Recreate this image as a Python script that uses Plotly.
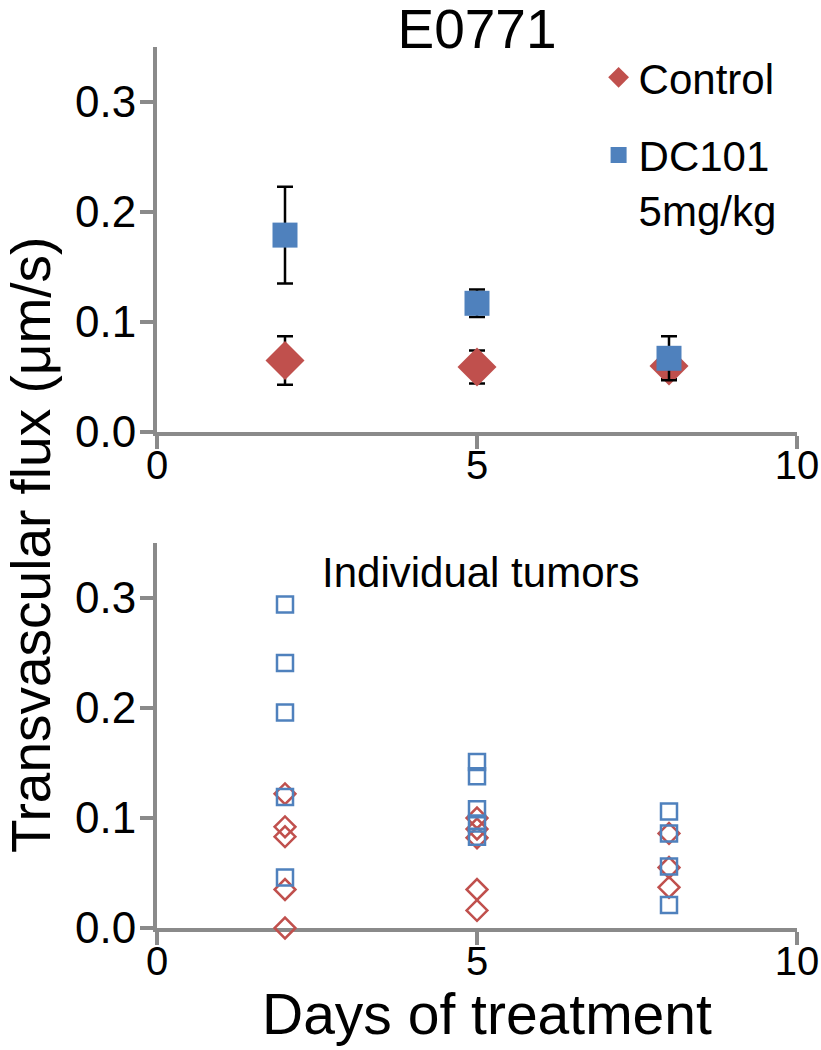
import plotly.graph_objects as go

# summary (mean +/- error) per treatment day
days = [2, 5, 8]
control_mean = [0.065, 0.059, 0.060]
control_err = [0.022, 0.015, 0.012]
dc101_mean = [0.179, 0.117, 0.067]
dc101_err = [0.044, 0.0125, 0.020]

# individual tumors
control_days = [2, 2, 2, 2, 2, 5, 5, 5, 5, 5, 8, 8, 8]
control_vals = [0.122, 0.092, 0.083, 0.035, 0.0,
                0.100, 0.090, 0.082, 0.035, 0.016,
                0.086, 0.055, 0.037]
dc101_days = [2, 2, 2, 2, 2, 5, 5, 5, 5, 5, 8, 8, 8, 8]
dc101_vals = [0.294, 0.241, 0.196, 0.119, 0.046,
              0.151, 0.138, 0.108, 0.095, 0.083,
              0.106, 0.086, 0.056, 0.021]

x_ticks = [0, 5, 10]
y_ticks = [0.0, 0.1, 0.2, 0.3]

red = "#C0504D"
blue = "#4F81BD"
grey = "#8A8A8A"
font = "Liberation Sans, Arial, sans-serif"

fig = go.Figure()

# top panel
fig.add_trace(go.Scatter(
    x=days, y=control_mean, mode="markers", name="Control", legendgroup="c",
    marker=dict(symbol="diamond", size=30, color=red),
    error_y=dict(type="data", array=control_err, color="black", thickness=2.5, width=8),
    xaxis="x", yaxis="y", cliponaxis=False))
fig.add_trace(go.Scatter(
    x=days, y=dc101_mean, mode="markers", name="DC101<br>5mg/kg", legendgroup="d",
    marker=dict(symbol="square", size=25, color=blue),
    error_y=dict(type="data", array=dc101_err, color="black", thickness=2.5, width=8),
    xaxis="x", yaxis="y", cliponaxis=False))

# bottom panel
fig.add_trace(go.Scatter(
    x=control_days, y=control_vals, mode="markers", showlegend=False,
    marker=dict(symbol="diamond-open", size=16, color=red, line=dict(width=2.5, color=red)),
    xaxis="x2", yaxis="y2", cliponaxis=False))
fig.add_trace(go.Scatter(
    x=dc101_days, y=dc101_vals, mode="markers", showlegend=False,
    marker=dict(symbol="square-open", size=16, color=blue, line=dict(width=2.5, color=blue)),
    xaxis="x2", yaxis="y2", cliponaxis=False))

axis_style = dict(
    showline=True, linecolor=grey, linewidth=4,
    ticks="outside", ticklen=13, tickwidth=4, tickcolor=grey,
    showgrid=False, zeroline=False, layer="below traces", automargin=False,
    tickfont=dict(size=44, color="black", family=font),
)
x_style = dict(axis_style, range=[0, 10], tickvals=x_ticks,
               tickfont=dict(size=40, color="black", family=font),
               ticklabelstandoff=-18, ticklabeloverflow="allow")
y_style = dict(axis_style, range=[0, 0.35], tickvals=y_ticks, tickformat=".1f",
               ticklabelstandoff=-5)

fig.update_layout(
    width=821, height=1050,
    plot_bgcolor="white", paper_bgcolor="white",
    margin=dict(l=157, r=24, t=47, b=122, autoexpand=False),
    font=dict(family=font, color="black"),
    title=dict(text="E0771", x=0.5, xref="paper", y=0.973, yanchor="middle",
               font=dict(size=55, family=font, color="black")),
    xaxis=dict(domain=[0, 1], anchor="y", **x_style),
    yaxis=dict(domain=[0.563, 1], anchor="x", **y_style),
    xaxis2=dict(domain=[0, 1], anchor="y2", **x_style),
    yaxis2=dict(domain=[0, 0.437], anchor="x2", **y_style),
    legend=dict(x=0.69, y=1.004, xanchor="left", yanchor="top", valign="top",
                font=dict(size=42, family=font, color="black"),
                bgcolor="rgba(0,0,0,0)", itemsizing="trace",
                traceorder="grouped", tracegroupgap=20),
    annotations=[
        dict(text="Individual tumors", x=0.505, y=0.404, xref="paper", yref="paper",
             showarrow=False, yanchor="middle", font=dict(size=42, family=font)),
        dict(text="Days of treatment", x=0.515, y=-0.098, xref="paper", yref="paper",
             showarrow=False, yanchor="middle", font=dict(size=57, family=font)),
        dict(text="Transvascular flux (μm/s)", x=-0.198, y=0.435, xref="paper", yref="paper",
             showarrow=False, textangle=-90, xanchor="center", yanchor="middle",
             font=dict(size=55, family=font)),
    ],
)

fig.write_html("out.html", config={"displayModeBar": False},
               post_script="document.body.style.margin = '0px';")
